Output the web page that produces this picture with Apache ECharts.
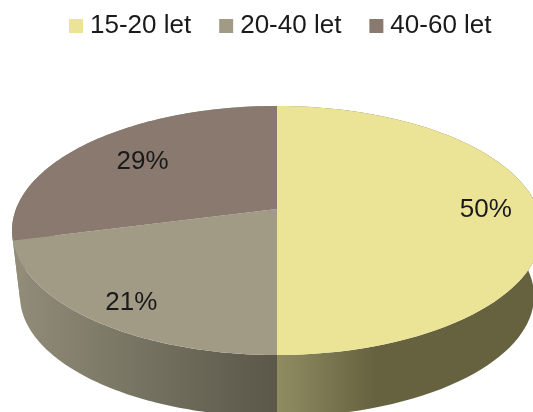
<!DOCTYPE html>
<html>
<head>
<meta charset="utf-8">
<style>
    html,body{margin:0;padding:0;background:#fff;}
    #main{width:533px;height:412px;}
</style>
<script src="https://cdn.jsdelivr.net/npm/echarts@6/dist/echarts.min.js"></script>
</head>
<body>
<div id="main"></div>
<script>
    var categories = ['15-20 let', '20-40 let', '40-60 let'];
    var values = [50, 21, 29];
    var labels = ['50%', '21%', '29%'];

    var topColors = ['#ebe396', '#a19b86', '#89796f'];

    // tilted disc: circle is pushed through a small perspective
    var cx = 277, cy = 209, halfW = 261, persA = 120.8, persK = -0.1727;
    var rimScale = 0.97, rimDrop = 65.5, ellipseMidY = 21.5;
    var labelR = [0.8, 0.83, 0.7];
    var labelNudge = [[0, 1], [4, 4], [0, 1]];

    var total = values.reduce(function (a, b) { return a + b; }, 0);

    function project(angle, r) {
        var px = Math.sin(angle) * r, py = -Math.cos(angle) * r;
        var d = 1 + persK * py;
        return [halfW * px / d, persA * py / d];
    }
    function topPoint(angle, r) {
        var p = project(angle, r);
        return [cx + p[0], cy + p[1]];
    }
    function rimPoint(angle) {
        var p = project(angle, 1);
        return [cx + rimScale * p[0], cy + ellipseMidY + rimDrop + rimScale * (p[1] - ellipseMidY)];
    }
    function sliceAngles(index) {
        var before = 0;
        for (var i = 0; i < index; i++) before += values[i];
        return [before / total * Math.PI * 2, (before + values[index]) / total * Math.PI * 2];
    }
    function arc(from, to, fn) {
        var pts = [], n = 80;
        for (var i = 0; i <= n; i++) pts.push(fn(from + (to - from) * i / n));
        return pts;
    }

    function wallFill(i) {
        if (i === 0) {
            return new echarts.graphic.LinearGradient(277, 0, 375, 0, [
                {offset: 0, color: '#908c62'},
                {offset: 1, color: '#666240'}
            ], true);
        }
        if (i === 1) {
            return new echarts.graphic.LinearGradient(13, 0, 277, 0, [
                {offset: 0, color: '#918d79'},
                {offset: 1, color: '#5b5749'}
            ], true);
        }
        return '#918d79';
    }

    var wallSeries = categories.map(function (name, i) {
        return {
            type: 'custom',
            name: 'wall ' + name,
            coordinateSystem: 'none',
            silent: true,
            z: 1,
            data: [values[i]],
            renderItem: function () {
                var a = sliceAngles(i);
                var pts = arc(a[0], a[1], function (t) { return topPoint(t, 1); })
                    .concat(arc(a[1], a[0], rimPoint));
                return {type: 'polygon', shape: {points: pts}, style: {fill: wallFill(i)}};
            }
        };
    });

    var topSeries = categories.map(function (name, i) {
        return {
            type: 'custom',
            name: name,
            coordinateSystem: 'none',
            silent: true,
            z: 2,
            itemStyle: {color: topColors[i]},
            data: [values[i]],
            renderItem: function () {
                var a = sliceAngles(i);
                var pts = [[cx, cy]].concat(arc(a[0], a[1], function (t) { return topPoint(t, 1); }));
                var mid = topPoint((a[0] + a[1]) / 2, labelR[i]);
                return {
                    type: 'group',
                    children: [
                        {type: 'polygon', shape: {points: pts}, style: {fill: topColors[i]}},
                        {
                            type: 'text',
                            z2: 10,
                            x: mid[0] + labelNudge[i][0],
                            y: mid[1] + labelNudge[i][1],
                            style: {
                                text: labels[i],
                                fill: '#1a1a1a',
                                font: '26px "Liberation Sans"',
                                align: 'center',
                                verticalAlign: 'middle'
                            }
                        }
                    ]
                };
            }
        };
    });

    var myChart = echarts.init(document.getElementById('main'), null, {renderer: 'canvas'});
    myChart.setOption({
        animation: false,
        backgroundColor: '#fff',
        legend: {
            data: categories.map(function (name) { return {name: name, icon: 'rect'}; }),
            left: 64,
            top: 8,
            itemWidth: 14,
            itemHeight: 14,
            itemGap: 28,
            selectedMode: false,
            textStyle: {
                color: '#1a1a1a',
                fontFamily: 'Liberation Sans',
                fontSize: 26,
                padding: [0, 0, 0, 2]
            }
        },
        series: wallSeries.concat(topSeries)
    });
</script>
</body>
</html>
